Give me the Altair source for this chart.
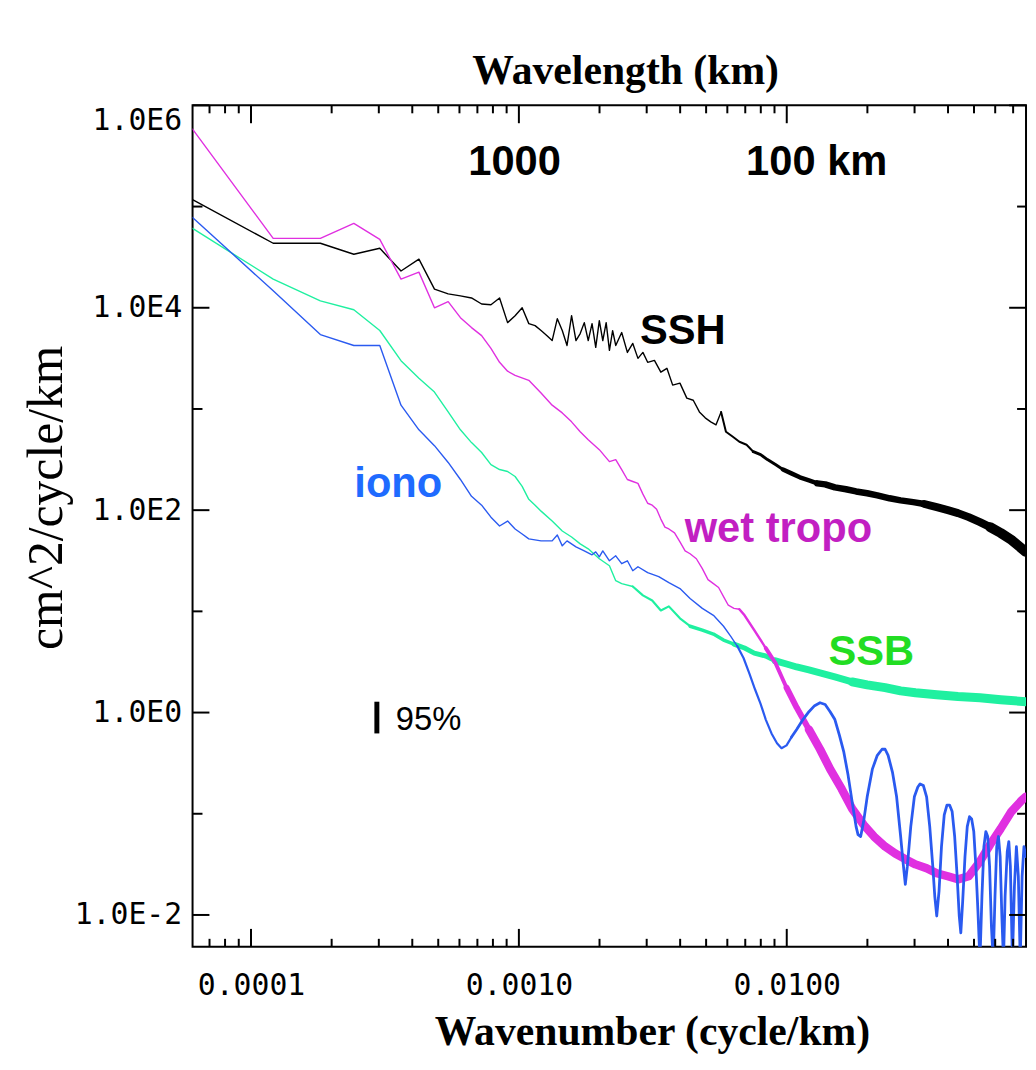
import altair as alt
import pandas as pd

# Fundamental wavenumber of the spectra (cycle/km); each spectral estimate sits at n * BASE_K
BASE_K = 6.05e-5

ssh_n = [1, 2, 3, 4, 5, 6, 7, 8, 9, 10, 11, 12, 13, 14, 15, 16, 17, 18, 19, 20, 21, 22, 23, 24, 25,
         26, 27, 28, 29, 30, 31, 32, 33, 34, 35, 36, 37, 38, 40, 42, 44, 46, 48, 50, 53, 56, 59, 62,
         66, 70, 74, 78, 82, 86, 90, 94, 98, 104, 110, 117, 124, 132, 140, 150, 160, 172, 185, 200,
         215, 230, 250, 275, 300, 330, 360, 400, 440, 490, 540, 600, 660, 720, 790, 870, 950, 1040,
         1140, 1250, 1290]
ssh_p = [1.17e5, 4.34e4, 4.34e4, 3.38e4, 3.87e4, 2.31e4, 3.02e4, 1.53e4, 1.37e4, 1.31e4, 1.25e4,
         1.09e4, 1.07e4, 1.25e4, 7.13e3, 8.35e3, 1.0e4, 6.97e3, 6.66e3, 5.95e3, 5.31e3, 4.74e3,
         7.80e3, 5.95e3, 4.24e3, 8.35e3, 4.74e3, 5.56e3, 7.13e3, 4.74e3, 6.97e3, 4.06e3, 7.46e3,
         4.74e3, 7.13e3, 3.79e3, 5.95e3, 4.24e3, 5.69e3, 3.62e3, 4.44e3, 3.16e3, 3.62e3, 2.89e3,
         3.02e3, 2.31e3, 2.52e3, 1.72e3, 1.80e3, 1.28e3, 1.22e3, 935, 817, 746, 697, 935, 596, 531,
         474, 443, 378, 354, 316, 282, 252, 231, 211, 197, 184, 180, 168, 161, 153, 147, 140, 131,
         125, 120, 115, 107, 100, 93.5, 85.3, 76.2, 68, 59.5, 50.8, 41.5, 38.7]

wet_n = [1, 2, 3, 4, 5, 6, 7, 8, 9, 10, 11, 12, 13, 14, 15, 16, 18, 20, 22, 24, 26, 28, 30, 33, 36,
         38, 40, 42, 44, 46, 48, 50, 52, 54, 56, 58, 60, 63, 66, 69, 72, 76, 80, 84, 88, 92, 96, 100,
         105, 110, 115, 125, 138, 150, 165, 180, 200, 220, 240, 265, 290, 320, 350, 385, 420, 460,
         500, 550, 600, 660, 720, 790, 870, 950, 1040, 1140, 1250, 1290]
wet_p = [5.82e5, 4.85e4, 4.85e4, 6.81e4, 4.74e4, 1.92e4, 2.25e4, 1.0e4, 1.15e4, 7.98e3, 6.37e3,
         5.31e3, 3.97e3, 2.89e3, 2.36e3, 2.15e3, 1.92e3, 1.44e3, 1.09e3, 914, 746, 596, 497, 396,
         302, 316, 252, 201, 192, 184, 144, 117, 112, 102, 81.6, 68, 65.2, 59.6, 48.5, 39.6, 37.1,
         33.1, 26.4, 20.6, 18.8, 17.2, 14.0, 11.5, 10.7, 10.5, 9.14, 6.52, 4.34, 3.09, 1.76,
         1.12, 0.681, 0.434, 0.276, 0.176, 0.112, 0.078, 0.0596, 0.0474, 0.0405, 0.0354, 0.0316,
         0.0289, 0.0258, 0.0241, 0.0225, 0.0241, 0.0338, 0.0497, 0.0713, 0.105, 0.137, 0.147]

ssb_n = [1, 2, 3, 4, 5, 6, 7, 8, 9, 10, 11, 12, 13, 14, 15, 16, 17, 18, 19, 20, 22, 24, 26, 28, 30,
         33, 36, 38, 40, 44, 48, 52, 56, 60, 66, 72, 80, 88, 96, 105, 115, 125, 138, 150, 165, 180,
         200, 220, 250, 290, 330, 385, 440, 500, 600, 720, 870, 1040, 1290]
ssb_p = [6.08e4, 1.92e4, 1.17e4, 9.55e3, 5.96e3, 3.0e3, 2.01e3, 1.47e3, 935, 622, 465, 371, 282, 252,
         241, 215, 172, 128, 112, 97.8, 78, 62.2, 54.3, 46.4, 41.5, 33.1, 28.2, 20.1, 18.8, 17.6,
         14.4, 12.8, 10.2, 11.2, 8.53, 7.13, 6.52, 5.96, 5.2, 4.75, 4.34, 3.87, 3.62, 3.24, 3.02,
         2.82, 2.64, 2.47, 2.25, 2.01, 1.88, 1.76, 1.64, 1.57, 1.5, 1.44, 1.4, 1.34, 1.28]

iono_n = [1, 2, 3, 4, 5, 6, 7, 8, 9, 10, 11, 12, 13, 14, 15, 16, 17, 18, 20, 22, 23, 24, 25, 27, 29,
          31, 32, 33, 34, 36, 38, 40, 42, 44, 46, 50, 55, 60, 66, 72, 80, 88, 96, 102, 108, 114, 120,
          126, 132, 138, 145, 152, 158, 165, 172, 180, 190, 200, 210, 220, 230, 240, 250, 260, 270,
          280, 290, 300, 305, 312, 320, 330, 345, 360, 375, 385, 395, 410, 425, 440, 450, 458, 466,
          480, 495, 510, 520, 535, 550, 565, 580, 590, 600, 612, 625, 640, 655, 670, 685, 700, 715,
          728, 738, 750, 765, 780, 795, 810, 825, 840, 855, 870, 885, 900, 915, 930, 945, 960, 975,
          990, 1005, 1020, 1035, 1050, 1065, 1080, 1100, 1115, 1130, 1150, 1170, 1190, 1210, 1230,
          1250, 1270, 1290]
iono_p = [7.8e4, 1.47e4, 5.43e3, 4.24e3, 4.24e3, 1.09e3, 622, 434, 296, 201, 137, 112, 85.3, 69.7,
          78, 65.2, 58.2, 52, 49.7, 49.7, 56.9, 44.4, 49.7, 43.4, 39.6, 36.2, 38.7, 34.6, 39.6, 31.6,
          35.4, 29.6, 31.6, 25.2, 27.6, 24.1, 22, 19.2, 16.8, 13.4, 10.7, 9.14, 7.13, 5.69, 4.54,
          3.46, 2.41, 1.68, 1.22, 0.853, 0.622, 0.497, 0.444, 0.474, 0.569, 0.681, 0.853, 1.02, 1.17,
          1.25, 1.2, 1.02, 0.853, 0.596, 0.406, 0.241, 0.131, 0.0746, 0.0622, 0.0596, 0.0836, 0.147,
          0.276, 0.378, 0.434, 0.434, 0.378, 0.258, 0.147, 0.0596, 0.0316, 0.0201, 0.0302, 0.0746,
          0.147, 0.184, 0.197, 0.19, 0.147, 0.0746, 0.0302, 0.0153, 0.00977, 0.0172, 0.0474, 0.0977,
          0.122, 0.122, 0.105, 0.0596, 0.0241, 0.00977, 0.00667, 0.0137, 0.0378, 0.0746, 0.0935,
          0.0889, 0.0667, 0.0302, 0.0109, 0.00354, 0.0153, 0.0474, 0.0667, 0.0596, 0.0302, 0.0078,
          0.00354, 0.0153, 0.0474, 0.0596, 0.0378, 0.00977, 0.00354, 0.0153, 0.0424, 0.0531, 0.0302,
          0.00354, 0.0192, 0.0474, 0.0241, 0.00354, 0.0241, 0.0474, 0.0378]

# axis ticks
x_major = [1e-4, 1e-3, 1e-2]
x_minor = [7e-5, 8e-5, 9e-5,
           2e-4, 3e-4, 4e-4, 5e-4, 6e-4, 7e-4, 8e-4, 9e-4,
           2e-3, 3e-3, 4e-3, 5e-3, 6e-3, 7e-3, 8e-3, 9e-3,
           2e-2, 3e-2, 4e-2, 5e-2, 6e-2, 7e-2]
y_labeled = [1e-2, 1e0, 1e2, 1e4, 1e6]
y_minor = [1e-1, 1e1, 1e3, 1e5]

# annotations (anchor in data units: wavenumber, power)
ann_text = ["SSH", "iono", "wet tropo", "SSB", "1000", "100 km"]
ann_k = [2.83e-3, 2.43e-4, 4.16e-3, 1.432e-2, 6.47e-4, 7.05e-3]
ann_p = [4.34e3, 134, 48.5, 2.96, 2.06e5, 2.06e5]
ann_color = ["#000000", "#1f6bff", "#c21fc2", "#22dd22", "#000000", "#000000"]

conf_k = [2.95e-4]
conf_lo = [0.622]
conf_hi = [1.28]
conf_text_k = [3.47e-4]
conf_text_p = [0.667]

X_DOMAIN = [6.05e-5, 0.0782]
Y_DOMAIN = [4.85e-3, 1e6]
W, H = 840, 848

xs = alt.Scale(type="log", domain=X_DOMAIN, nice=False)
ys = alt.Scale(type="log", domain=Y_DOMAIN, nice=False)

# stroke width by wavenumber range (mimics the dense noisy bands at high wavenumber)
STYLE = {
    "SSH": ("#000000", [(0, 1.4), (5.5e-3, 2.0), (7.5e-3, 3.0), (9.5e-3, 4.5), (1.3e-2, 6.5),
                        (3.0e-2, 8), (5.5e-2, 10)]),
    "SSB": ("#1ff0a0", [(0, 1.4), (2.6e-3, 2.2), (4.0e-3, 3.5), (6.0e-3, 5), (9.0e-3, 7),
                        (1.6e-2, 9)]),
    "wet": ("#e030e0", [(0, 1.4), (6.5e-3, 2.5), (8.0e-3, 4), (9.5e-3, 6), (1.2e-2, 8.5)]),
    "iono": ("#2a5af0", [(0, 1.4), (6.5e-3, 2.2), (1.0e-2, 2.8)]),
}


def build(n_list, p_list, widths):
    ks = [n * BASE_K for n in n_list]
    segs = [max(i for i, (k0, _) in enumerate(widths) if k >= k0) for k in ks]
    rows = []
    for i, (k, p, s) in enumerate(zip(ks, p_list, segs)):
        rows.append(dict(k=k, p=p, seg=s, w=widths[s][1]))
        if i > 0 and segs[i - 1] != s:
            rows.append(dict(k=k, p=p, seg=segs[i - 1], w=widths[segs[i - 1]][1]))
    return pd.DataFrame(rows)


y_axis = alt.Axis(orient="left", values=y_labeled,
                  labelExpr="'1.0E' + round(log(datum.value)/LN10)",
                  ticks=False, tickSize=0, domain=False, grid=False,
                  labelFont="DejaVu Sans Mono", labelFontSize=30, labelColor="black",
                  labelPadding=11, labelFlush=True,
                  title="cm^2/cycle/km", titleFont="Liberation Serif", titleFontSize=50,
                  titleFontWeight="normal", titleColor="black", titleX=-147, titleY=395,
                  titleAngle=270, titleAlign="center", titleBaseline="middle")
x_axis = alt.Axis(orient="bottom", values=x_major, format=".4f", ticks=False, tickSize=0,
                  domain=False, grid=False, labelFont="DejaVu Sans Mono", labelFontSize=30,
                  labelColor="black", labelPadding=24, labelFlush=False,
                  title="Wavenumber (cycle/km)", titleFont="Liberation Serif", titleFontSize=42,
                  titleFontWeight="bold", titleColor="black", titleX=463, titleY=99,
                  titleAlign="center", titleBaseline="alphabetic")
top_axis = alt.Axis(orient="top", labels=False, ticks=False, domain=False, grid=False,
                    title="Wavelength (km)", titleFont="Liberation Serif", titleFontSize=42,
                    titleFontWeight="bold", titleColor="black", titleX=436, titleY=-22,
                    titleAlign="center", titleBaseline="alphabetic")


def line_layer(name, n_list, p_list, with_axes=False):
    color, widths = STYLE[name]
    df = build(n_list, p_list, widths)
    return alt.Chart(df).mark_line(clip=True, color=color, strokeJoin="round",
                                   strokeCap="round").encode(
        x=alt.X("k:Q", scale=xs, axis=x_axis if with_axes else None),
        y=alt.Y("p:Q", scale=ys, axis=y_axis if with_axes else None),
        detail="seg:N",
        strokeWidth=alt.StrokeWidth("w:Q", scale=None, legend=None),
    )


def xticks(vals, y0, y1, axis=None):
    return alt.Chart(pd.DataFrame({"v": vals})).mark_rule(color="black", strokeWidth=2).encode(
        x=alt.X("v:Q", scale=xs, axis=axis), y=alt.value(y0), y2=alt.value(y1))


def yticks(vals, x0, x1):
    return alt.Chart(pd.DataFrame({"v": vals})).mark_rule(color="black", strokeWidth=2).encode(
        y=alt.Y("v:Q", scale=ys, axis=None), x=alt.value(x0), x2=alt.value(x1))


ann_df = pd.DataFrame({"t": ann_text, "k": ann_k, "p": ann_p, "c": ann_color})
labels = alt.Chart(ann_df).mark_text(font="Liberation Sans", fontWeight="bold", fontSize=42,
                                     align="left", baseline="alphabetic").encode(
    x=alt.X("k:Q", scale=xs, axis=None), y=alt.Y("p:Q", scale=ys, axis=None),
    text="t:N", color=alt.Color("c:N", scale=None, legend=None))

conf_df = pd.DataFrame({"k": conf_k, "lo": conf_lo, "hi": conf_hi})
conf_bar = alt.Chart(conf_df).mark_rule(color="black", strokeWidth=5).encode(
    x=alt.X("k:Q", scale=xs, axis=None), y=alt.Y("lo:Q", scale=ys, axis=None), y2="hi:Q")
conf_lab = alt.Chart(pd.DataFrame({"k": conf_text_k, "p": conf_text_p, "t": ["95%"]})).mark_text(
    font="Liberation Sans", fontSize=33, align="left", baseline="alphabetic", color="black").encode(
    x=alt.X("k:Q", scale=xs, axis=None), y=alt.Y("p:Q", scale=ys, axis=None), text="t:N")

chart = alt.layer(
    line_layer("SSH", ssh_n, ssh_p, with_axes=True),
    line_layer("SSB", ssb_n, ssb_p),
    line_layer("wet", wet_n, wet_p),
    line_layer("iono", iono_n, iono_p),
    xticks(x_major, H, H - 18),
    xticks(x_minor, H, H - 8),
    xticks(x_major, 0, 18, axis=top_axis),
    xticks(x_minor, 0, 8),
    yticks(y_labeled, 0, 17),
    yticks(y_minor, 0, 10),
    yticks(y_labeled, W, W - 17),
    yticks(y_minor, W, W - 9),
    labels, conf_bar, conf_lab,
).resolve_axis(x="independent", y="independent").properties(
    width=W, height=H,
    padding={"left": 186, "top": 94, "right": 2, "bottom": 110},
    autosize=alt.AutoSizeParams(type="none"),
    background="white",
).configure_view(stroke="black", strokeWidth=2)

chart.save("out.html", embed_options={"renderer": "svg", "actions": False})
